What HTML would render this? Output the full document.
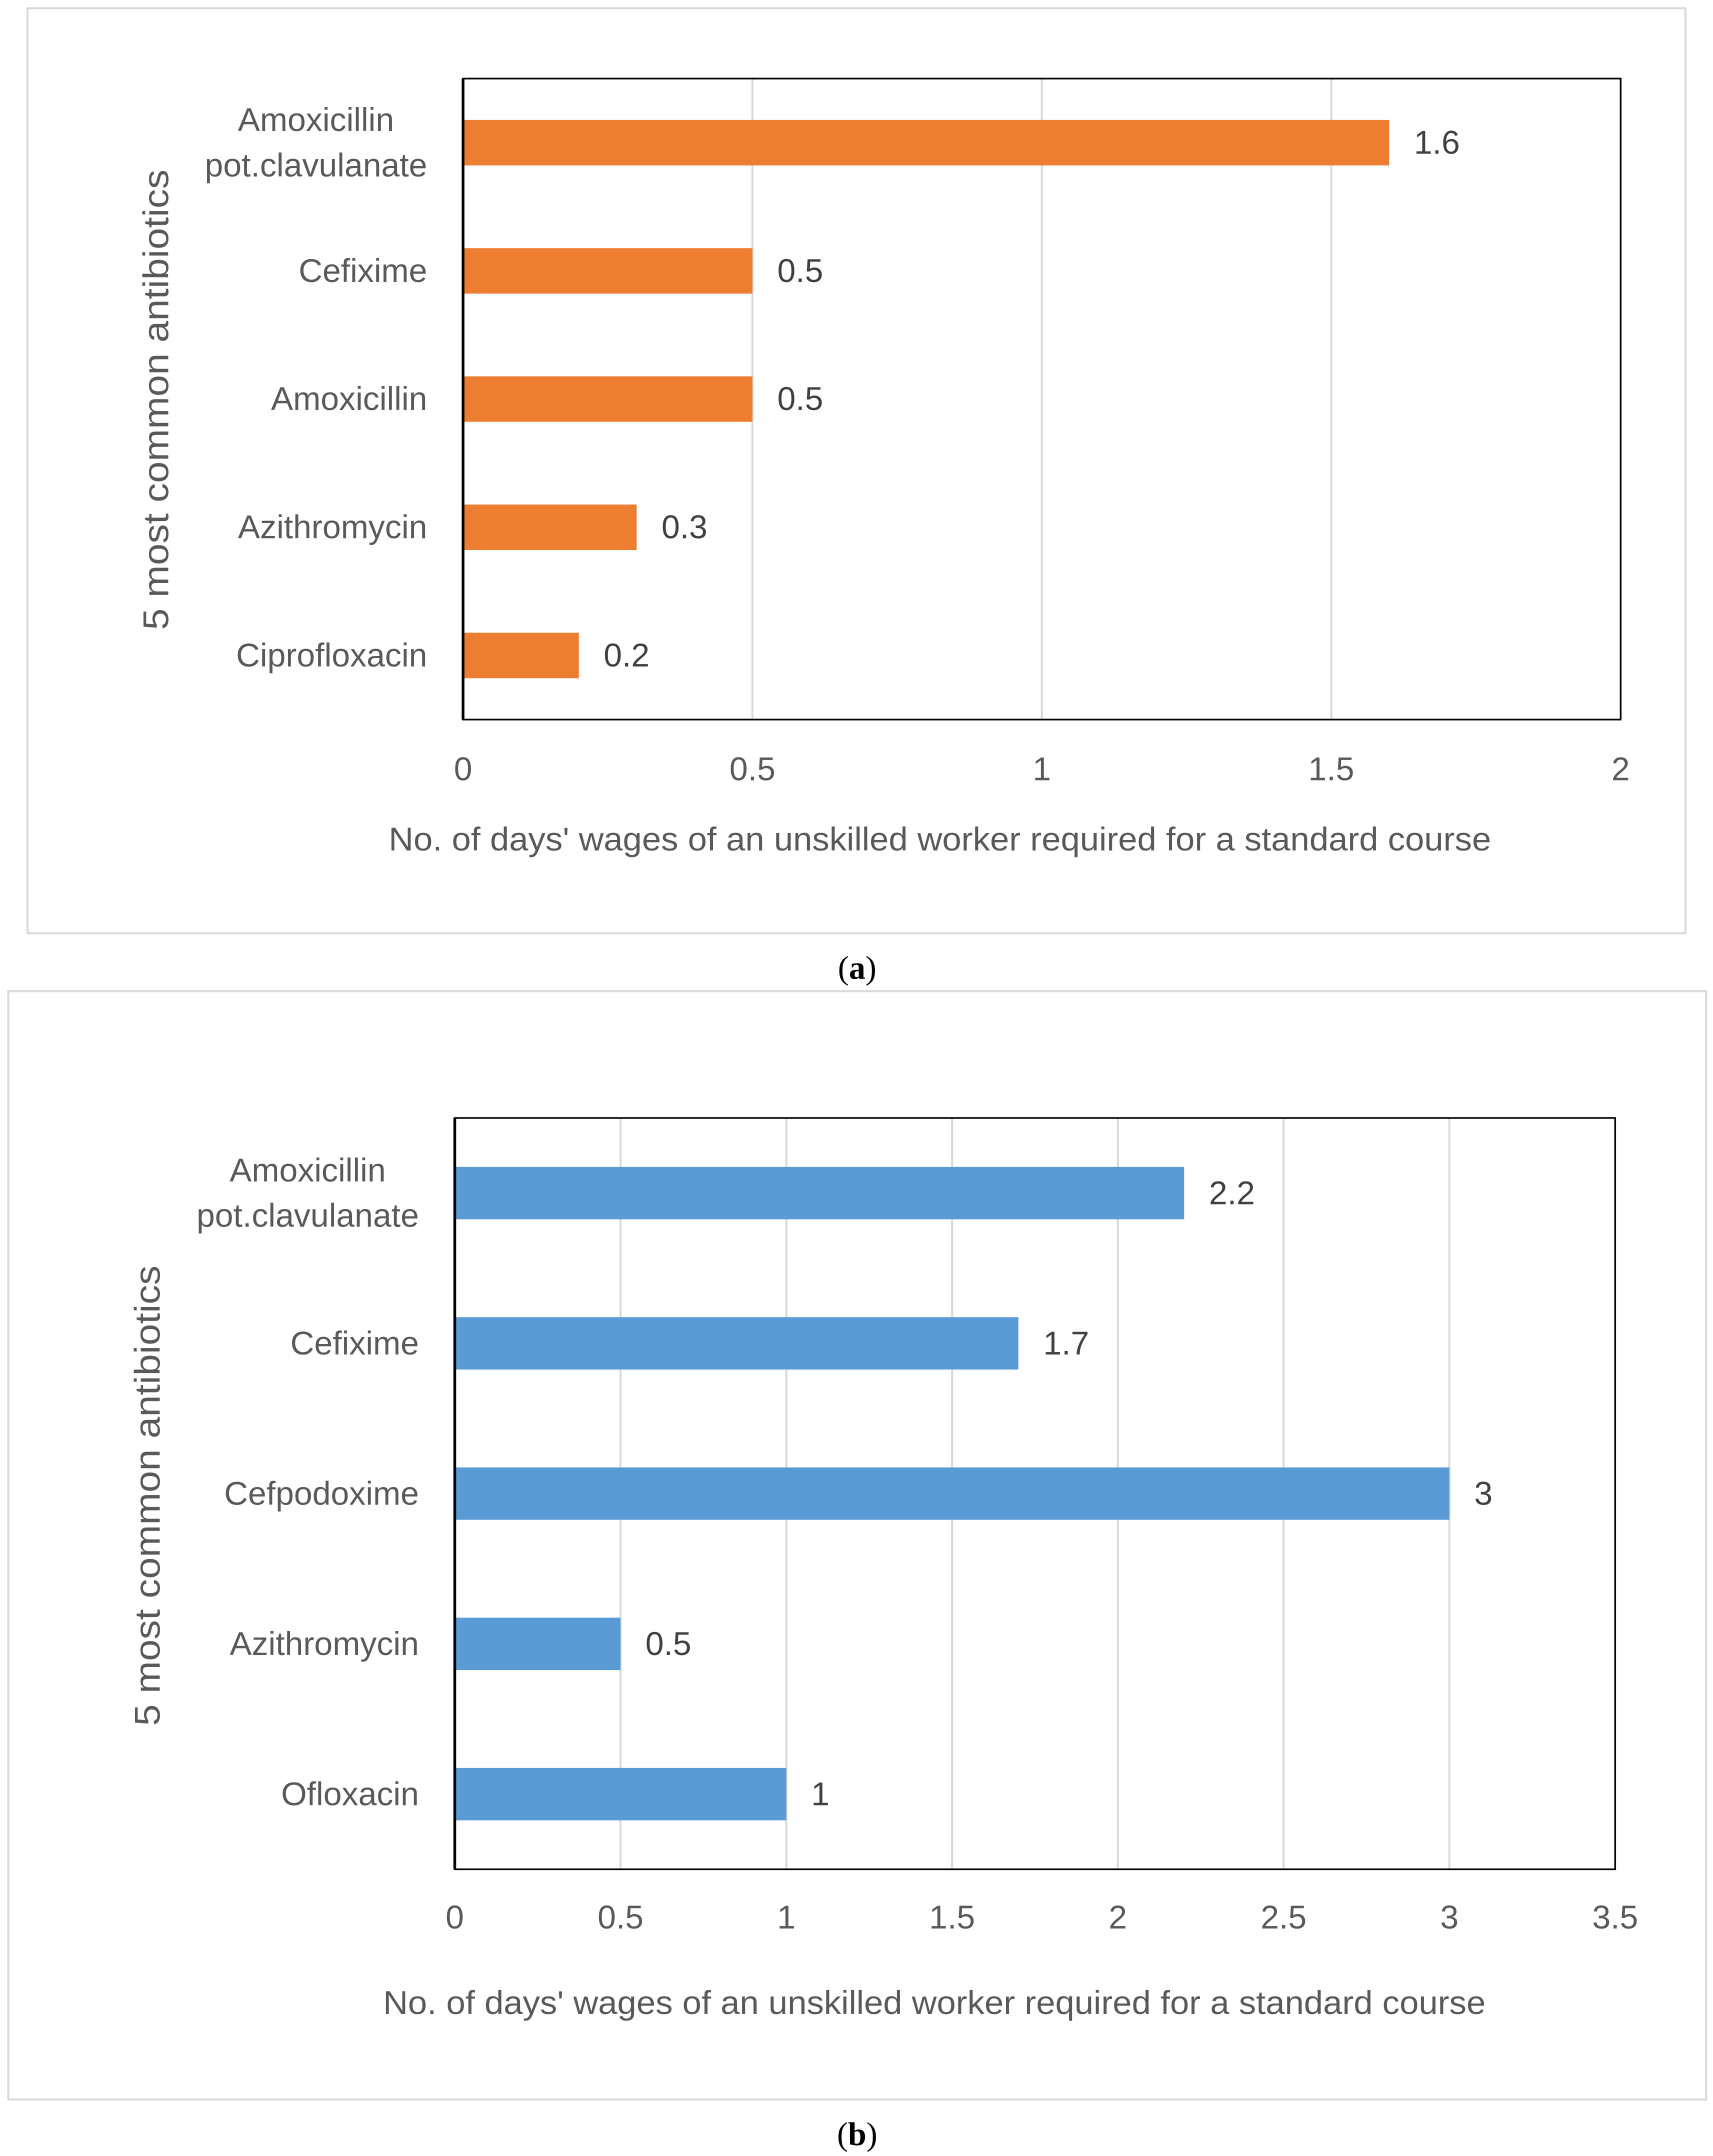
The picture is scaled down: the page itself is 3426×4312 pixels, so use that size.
<!DOCTYPE html>
<html><head><meta charset="utf-8"><style>
html,body{margin:0;padding:0;background:#fff;}
svg{display:block;font-family:"Liberation Sans",sans-serif;}
</style></head><body>
<svg id="fig" width="3426" height="4312" viewBox="0 0 1243 1564" preserveAspectRatio="none" xmlns="http://www.w3.org/2000/svg"></svg>
<script>
const catsA = ["Amoxicillin|pot.clavulanate","Cefixime","Amoxicillin","Azithromycin","Ciprofloxacin"];
const valsA = [1.6,0.5,0.5,0.3,0.2];
const ticksA = [0,0.5,1,1.5,2];
const catsB = ["Amoxicillin|pot.clavulanate","Cefixime","Cefpodoxime","Azithromycin","Ofloxacin"];
const valsB = [2.2,1.7,3,0.5,1];
const ticksB = [0,0.5,1,1.5,2,2.5,3,3.5];

const NS="http://www.w3.org/2000/svg";
const svg=document.getElementById('fig');
const FS=24;
function mk(tag,attrs,parent,text){const e=document.createElementNS(NS,tag);for(const k in attrs)e.setAttribute(k,attrs[k]);if(text!==undefined)e.textContent=text;(parent||svg).appendChild(e);return e;}

function chart(cfg,cats,vals,ticks,name){
  const g=mk('g',{});
  
  
  const fr=mk('rect',{x:cfg.fx,y:cfg.fy,width:cfg.fw,height:cfg.fh,fill:'#fff',stroke:'#D9D9D9','stroke-width':1.5},g);
  
  const max=ticks[ticks.length-1];
  const X=v=>cfg.px0+(cfg.px1-cfg.px0)*v/max;
  const band=(cfg.py1-cfg.py0)/cats.length;
  const Y=i=>cfg.py0+band*(i+0.5);
  ticks.forEach(t=>{
    if(t>0){const l=mk('line',{x1:X(t),x2:X(t),y1:cfg.py0,y2:cfg.py1,stroke:'#D9D9D9','stroke-width':1.5},g);
    }
    const tl=mk('text',{x:X(t),y:cfg.tickY,'text-anchor':'middle','font-size':FS,fill:'#595959'},g,String(t));
    
  });
  const pr=mk('rect',{x:cfg.px0,y:cfg.py0,width:cfg.px1-cfg.px0,height:cfg.py1-cfg.py0,fill:'none',stroke:'#000','stroke-width':1.2},g);
  
  cats.forEach((c,i)=>{
    const cy=Y(i);
    const b=mk('rect',{x:cfg.px0,y:cy-cfg.bh/2,width:X(vals[i])-cfg.px0,height:cfg.bh,fill:cfg.color},g);
    
    const v=mk('text',{x:X(vals[i])+18,y:cy+8,'font-size':FS,fill:'#404040'},g,String(vals[i]));
    
    const parts=c.split('|');
    const els=[];
    parts.forEach((p,j)=>{
      const off=(j-(parts.length-1)/2)*33;
      const t=mk('text',{x:cfg.px0-26,y:cy+8+off,'text-anchor':'end','font-size':FS,fill:'#595959'},g,p);
      
      els.push(t);
    });
    if(els.length>1){
      const W=Math.max(...els.map(e=>e.getComputedTextLength()));
      els.forEach(e=>{e.setAttribute('text-anchor','middle');e.setAttribute('x',cfg.px0-26-W/2);});
    }
  });
  const ax=mk('line',{x1:cfg.px0,x2:cfg.px0,y1:cfg.py0,y2:cfg.py1,stroke:'#000','stroke-width':2},g);
  
  const xt=mk('text',{x:cfg.xtX,y:cfg.xtY,'text-anchor':'middle','font-size':FS,fill:'#595959',textLength:800,lengthAdjust:'spacingAndGlyphs'},g,"No. of days' wages of an unskilled worker required for a standard course");
  
  const yt=mk('text',{x:0,y:0,'text-anchor':'middle','font-size':26,fill:'#595959',textLength:334,lengthAdjust:'spacingAndGlyphs',transform:`translate(${cfg.ytX},${cfg.ytY}) rotate(-90)`},g,'5 most common antibiotics');
  
  const cap=mk('text',{x:cfg.capX,y:cfg.capY,'text-anchor':'middle','font-size':24,fill:'#000','font-family':'Liberation Serif, serif'},g);
  
  mk('tspan',{},cap,'(');mk('tspan',{'font-weight':'bold'},cap,cfg.cap);mk('tspan',{},cap,')');
}
chart({fx:20,fy:6,fw:1203,fh:671,px0:336,px1:1176,py0:57,py1:522,bh:33,color:'#ED7D31',tickY:566,xtX:682,xtY:617,ytX:122,ytY:290,capX:622,capY:710,cap:'a'},catsA,valsA,ticksA,'chart-a');
chart({fx:6,fy:719,fw:1232,fh:804,px0:330,px1:1172,py0:811,py1:1356,bh:38,color:'#5B9BD5',tickY:1399,xtX:678,xtY:1461,ytX:116,ytY:1085,capX:622,capY:1556,cap:'b'},catsB,valsB,ticksB,'chart-b');
</script>
</body></html>
